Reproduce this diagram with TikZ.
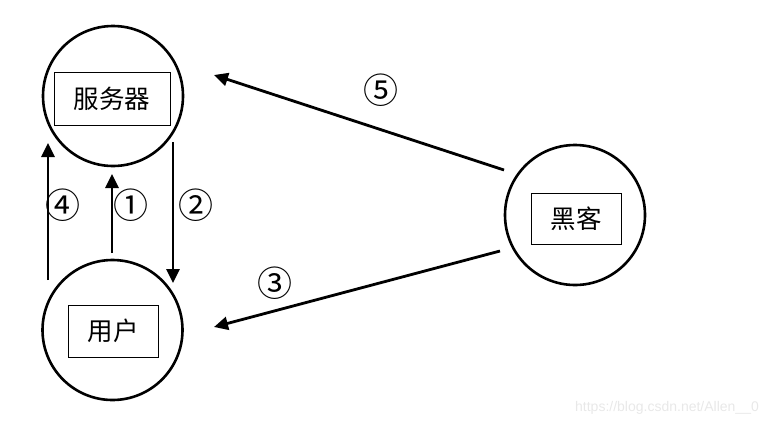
\documentclass[tikz,border=0pt]{standalone}
\usepackage{fontspec}
\newfontfamily\cjk{Noto Sans CJK SC}
\newfontfamily\wm{Liberation Sans}
\usetikzlibrary{arrows.meta}
\tikzset{
  ring/.style={draw, circle, line width=2.6pt, minimum size=140pt, inner sep=0pt},
  label box/.style={draw, line width=0.8pt, inner sep=0pt, font=\cjk\fontsize{25.5}{25.5}\selectfont},
  flow/.style={line width=2.8pt, -{Triangle[length=14pt,width=13pt]}},
  num/.style={font=\cjk\fontsize{35}{35}\selectfont, inner sep=0pt}
}
\begin{document}
\begin{tikzpicture}[x=1pt,y=-1pt]
\useasboundingbox (0,0) rectangle (781,426);
% circles
\node[ring] (s) at (113,96) {};
\node[ring] (u) at (112.5,330) {};
\node[ring] (h) at (575,215) {};
% boxes
\node[label box, minimum width=116pt, minimum height=53pt] (sb) at (112,98.5) {服务器};
\node[label box, minimum width=90pt, minimum height=52pt] (ub) at (113,331) {用户};
\node[label box, minimum width=90pt, minimum height=51pt] (hb) at (576,218.5) {黑客};
% connector end points
\coordinate (a4s) at (48,280);
\coordinate (a4e) at (48,143);
\coordinate (a1s) at (112,253);
\coordinate (a1e) at (112,174);
\coordinate (a2s) at (173,142);
\coordinate (a2e) at (173,283);
\coordinate (a5s) at (504,170);
\coordinate (a5e) at (214,75);
\coordinate (a3s) at (500,251);
\coordinate (a3e) at (214,327);
\draw[flow] (a4s) -- (a4e);
\draw[flow] (a1s) -- (a1e);
\draw[flow] (a2s) -- (a2e);
\draw[flow] (a5s) -- (a5e);
\draw[flow] (a3s) -- (a3e);
% labels
\node[num] (n4) at (63,205) {④};
\node[num] (n1) at (131,205) {①};
\node[num] (n2) at (196,205) {②};
\node[num] (n5) at (380.5,90) {⑤};
\node[num] (n3) at (275,283) {③};
% watermark
\node[font=\wm\fontsize{14}{14}\selectfont, text=black!9, inner sep=0pt] (wm) at (667,408) {https://blog.csdn.net/Allen\_\_0};
\end{tikzpicture}
\end{document}
